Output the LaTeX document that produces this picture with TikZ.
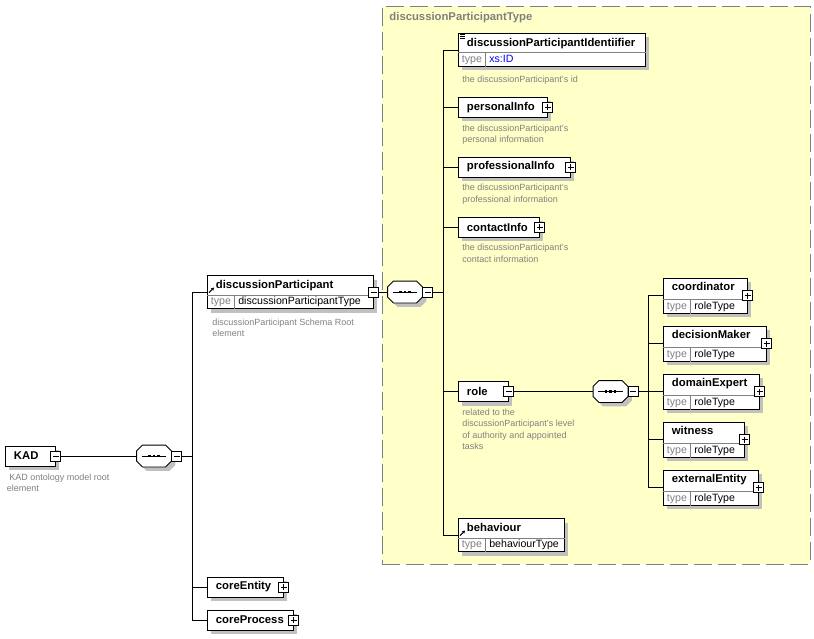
\documentclass[tikz,border=0pt]{standalone}
\usepackage{fontspec}
\setmainfont{Liberation Sans}
\usepackage{tikz}
\usetikzlibrary{positioning,shadows,arrows.meta}

\definecolor{descgray}{RGB}{128,128,128}
\definecolor{shadowgray}{RGB}{192,192,192}
\definecolor{typebg}{RGB}{255,255,200}
\definecolor{xsblue}{RGB}{0,0,255}

\newcommand{\elemfont}{\fontsize{11.3}{13}\selectfont\bfseries}
\newcommand{\keyfont}{\fontsize{10.6}{12}\selectfont}
\newcommand{\descfont}{\fontsize{9}{11.3}\selectfont}

\tikzset{elem style/.style={
		draw=black,
		fill=white,
		rectangle,
		anchor=west,
		minimum height=20pt,
		inner xsep=8.5pt,
		inner ysep=0pt,
		align=left,
		font=\elemfont,
		drop shadow={shadow xshift=4pt, shadow yshift=-4pt, fill=shadowgray, opacity=1},
	},
	elem label/.style={
		anchor=base west,
		inner xsep=8.5pt,
		inner ysep=0pt,
		font=\elemfont,
	},
	type key/.style={
		anchor=west,
		minimum width=27pt,
		minimum height=14pt,
		inner sep=0pt,
		text height=8pt,
		text depth=2.5pt,
		text=descgray,
		font=\keyfont,
	},
	type value/.style={
		anchor=west,
		inner xsep=3pt,
		inner ysep=0pt,
		text height=8pt,
		text depth=2.5pt,
		font=\keyfont,
	},
	split line/.style={
		draw=descgray,
		line width=0.9pt,
	},
	desc style/.style={
		anchor=north west,
		inner sep=0pt,
		align=left,
		text=descgray,
		font=\descfont,
	},
	plus style/.style={
		draw=black,
		fill=white,
		minimum size=10pt,
		inner sep=0pt,
		path picture={
			\draw[line width=0.9pt] ([xshift=2pt]path picture bounding box.west) -- ([xshift=-2pt]path picture bounding box.east)
				([yshift=-2pt]path picture bounding box.north) -- ([yshift=2pt]path picture bounding box.south);
		},
	},
	minus style/.style={
		draw=black,
		fill=white,
		minimum size=10pt,
		inner sep=0pt,
		path picture={
			\draw[line width=0.9pt] ([xshift=2pt]path picture bounding box.west) -- ([xshift=-2pt]path picture bounding box.east);
		},
	},
	seq style/.style={
		rectangle,
		minimum width=34pt,
		minimum height=21pt,
		inner sep=0pt,
	},
	seq shadow/.style={
		fill=shadowgray,
	},
	seq outline/.style={
		draw=black,
		fill=white,
	},
	type box/.style={
		draw=descgray,
		dash pattern=on 18pt off 6pt,
		fill=typebg,
		anchor=north west,
		inner sep=0pt,
	},
	type title/.style={
		anchor=west,
		inner sep=0pt,
		text=descgray,
		font=\elemfont,
	},
	ref arrow/.style={
		-{Stealth[length=3pt,width=3.5pt]},
		line width=1.1pt,
	}
}

% element box with a "type" row: name, west point, width, height, label, type
\newcommand{\typedelem}[6]{%
	\node[elem style, minimum width=#3, minimum height=#4, inner sep=0pt] (#1) at #2 {};
	\node[elem label] (#1 label) at ([yshift=-13pt]#1.north west) {#5};
	\draw[split line] ([yshift=14pt]#1.south west) -- ([yshift=14pt]#1.south east);
	\node[type key] (#1 key) at ([yshift=7pt]#1.south west) {type};
	\draw[split line] (#1 key.north east) -- (#1 key.south east);
	\node[type value] (#1 type) at (#1 key.east) {#6};
}

% octagon of a sequence compositor round the node #1
\newcommand{\octagon}[1]{([xshift=6pt]#1.north west) -- ([xshift=-6pt]#1.north east)
	-- ([yshift=-6pt]#1.north east) -- ([yshift=6pt]#1.south east)
	-- ([xshift=-6pt]#1.south east) -- ([xshift=6pt]#1.south west)
	-- ([yshift=6pt]#1.south west) -- ([yshift=-6pt]#1.north west) -- cycle}

% sequence compositor: name, centre
\newcommand{\seqnode}[2]{%
	\node[seq style] (#1) at #2 {};
	\node[seq style] (#1 shadow) at ([shift={(4pt,-4pt)}]#1.center) {};
	\path[seq shadow] \octagon{#1 shadow};
	\path[seq outline] \octagon{#1};
	\draw ([xshift=5pt]#1.west) -- ([xshift=-5pt]#1.east);
	\foreach \d in {-4.5,0,4.5}
		\fill ([shift={(\d pt-1.4pt,-1.4pt)}]#1.center) rectangle ++(2.8pt,2.8pt);
}

\begin{document}
\begin{tikzpicture}[x=1pt, y=-1pt, line width=0.9pt]
	\useasboundingbox (0,0) rectangle (814,639);
	
	% complex type area
	\node[type box, minimum width=428pt, minimum height=558pt] (dpTypeBox) at (382,6) {};
	\node[type title] (dpTypeTitle) at ([shift={(7pt,-12pt)}]dpTypeBox.north west) {discussionParticipantType};
	
	% root element
	\node[elem style, text width=33pt] (KAD) at (5,456) {KAD};
	\node[minus style] (KAD minus) at (KAD.east) {};
	\node[desc style] (KAD desc) at ([shift={(1.5pt,-6.8pt)}]KAD.south west) {~KAD ontology model root\\element};
	
	\seqnode{seqA}{(154,456)}
	\node[minus style, anchor=west] (seqA minus) at (seqA.east) {};
	\coordinate (trunkA) at (192,456);
	\draw (KAD minus) -- (seqA);
	\draw (seqA minus) -- (trunkA);
	
	\typedelem{discussionParticipant}{(207,292)}{166pt}{33pt}{discussionParticipant}{discussionParticipantType}
	\draw[ref arrow] ([shift={(2pt,-17.5pt)}]discussionParticipant.north west) -- ++(5pt,5pt);
	\node[minus style] (discussionParticipant minus) at (discussionParticipant.east) {};
	\node[desc style] (discussionParticipant desc) at ([shift={(5pt,-9.3pt)}]discussionParticipant.south west) {discussionParticipant Schema Root\\element};
	
	\node[elem style, text width=59pt] (coreEntity) at (207,587) {coreEntity};
	\node[plus style] (coreEntity plus) at (coreEntity.east) {};
	\node[elem style, text width=69pt] (coreProcess) at (207,620) {coreProcess};
	\node[plus style] (coreProcess plus) at (coreProcess.east) {};
	
	\foreach \c in {discussionParticipant, coreEntity, coreProcess}
		\draw (trunkA) |- (\c);
	
	% content of discussionParticipantType
	\seqnode{seqB}{(405,292)}
	\node[minus style, anchor=west] (seqB minus) at (seqB.east) {};
	\coordinate (trunkB) at (443,292);
	\draw (discussionParticipant minus) -- (seqB);
	\draw (seqB minus) -- (trunkB);
	
	\typedelem{identifier}{(458,50)}{187pt}{33pt}{discussionParticipantIdentiifier}{\textcolor{xsblue}{xs:ID}}
	\foreach \k in {1.5,3.3,5.1}
		\draw[line width=0.8pt] ([shift={(2pt,-\k pt)}]identifier.north west) -- ++(5pt,0pt);
	\node[desc style] (identifier desc) at ([shift={(4pt,-8.3pt)}]identifier.south west) {the discussionParticipant's id};
	
	\node[elem style, text width=72pt] (personalInfo) at (458,107.5) {personalInfo};
	\node[plus style] (personalInfo plus) at (personalInfo.east) {};
	\node[desc style] (personalInfo desc) at ([shift={(4pt,-6.5pt)}]personalInfo.south west) {the discussionParticipant's\\personal information};
	
	\node[elem style, text width=95pt] (professionalInfo) at (458,167) {professionalInfo};
	\node[plus style] (professionalInfo plus) at (professionalInfo.east) {};
	\node[desc style] (professionalInfo desc) at ([shift={(4pt,-6.5pt)}]professionalInfo.south west) {the discussionParticipant's\\professional information};
	
	\node[elem style, text width=64pt] (contactInfo) at (458,227) {contactInfo};
	\node[plus style] (contactInfo plus) at (contactInfo.east) {};
	\node[desc style] (contactInfo desc) at ([shift={(4pt,-6.5pt)}]contactInfo.south west) {the discussionParticipant's\\contact information};
	
	\node[elem style, text width=33pt] (role) at (458,391.5) {role};
	\node[minus style] (role minus) at (role.east) {};
	\node[desc style] (role desc) at ([shift={(4pt,-6.5pt)}]role.south west) {related to the\\discussionParticipant's level\\of authority and appointed\\tasks};
	
	\typedelem{behaviour}{(458,535)}{106pt}{33pt}{behaviour}{behaviourType}
	\draw[ref arrow] ([shift={(2pt,-17.5pt)}]behaviour.north west) -- ++(5pt,5pt);
	
	\foreach \c in {identifier, personalInfo, professionalInfo, contactInfo, role, behaviour}
		\draw (trunkB) |- (\c);
	
	% role choices
	\seqnode{seqC}{(610.5,391.5)}
	\node[minus style, anchor=west] (seqC minus) at (seqC.east) {};
	\coordinate (trunkC) at (648,391.5);
	\draw (role minus) -- (seqC);
	\draw (seqC minus) -- (trunkC);
	
	\foreach \n/\w/\y in {coordinator/84/295.5, decisionMaker/103/343.5, domainExpert/96/391.5, witness/81/439.5, externalEntity/95/487.5} {
		\typedelem{\n}{(663,\y)}{\w pt}{35pt}{\n}{roleType}
		\node[plus style] (\n plus) at (\n.east) {};
		\draw (trunkC) |- (\n);
	}
\end{tikzpicture}
\end{document}
